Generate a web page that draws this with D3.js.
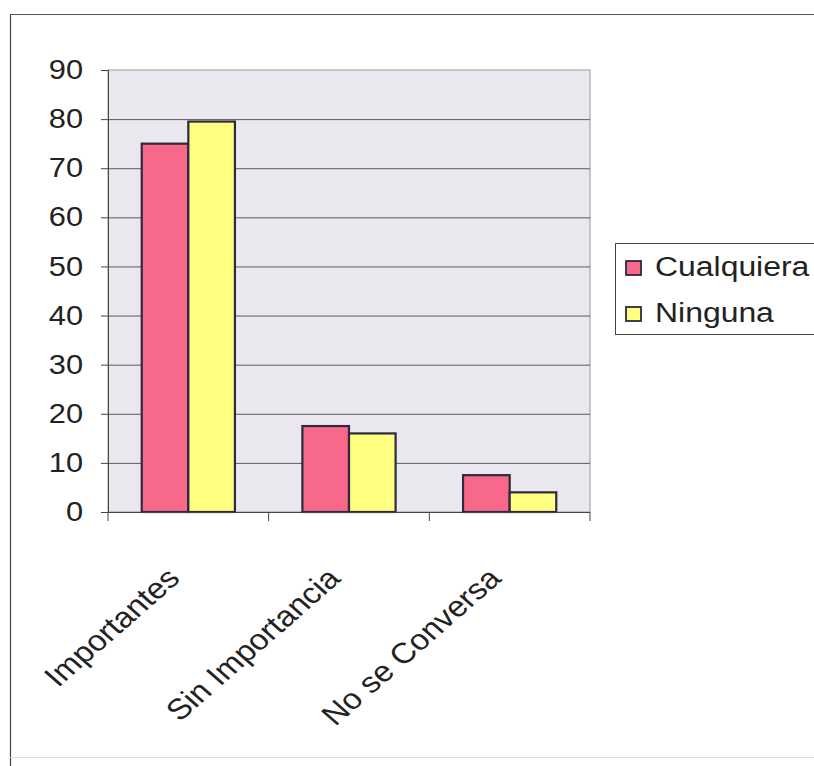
<!DOCTYPE html>
<html>
<head>
<meta charset="utf-8">
<script src="https://cdn.jsdelivr.net/npm/d3@7"></script>
<style>
  html, body { margin: 0; padding: 0; background: #fff; }
  svg { display: block; font-family: "Liberation Sans", Arial, sans-serif; }
</style>
</head>
<body>
<svg id="chart" width="814" height="766"></svg>
<script>
const categories = ["Importantes", "Sin Importancia", "No se Conversa"];
const seriesNames = ["Cualquiera", "Ninguna"];
const cualquiera = [75, 17.5, 7.5];
const ninguna = [79.5, 16, 4];
const yTicks = [0, 10, 20, 30, 40, 50, 60, 70, 80, 90];
const colors = ["#f8688a", "#ffff80"];

// the lettering is set slightly wide
const stretch = 1.14;

const svg = d3.select("#chart");

// outer chart frame
svg.append("line").attr("x1", 10.5).attr("x2", 10.5).attr("y1", 14).attr("y2", 766)
  .attr("stroke", "#444").attr("stroke-width", 1.2);
svg.append("line").attr("x1", 10).attr("x2", 814).attr("y1", 14.5).attr("y2", 14.5)
  .attr("stroke", "#555").attr("stroke-width", 1.2);
svg.append("line").attr("x1", 10).attr("x2", 814).attr("y1", 757.5).attr("y2", 757.5)
  .attr("stroke", "#ddd").attr("stroke-width", 1);

const plot = { left: 108, right: 590, top: 70, bottom: 512 };

const x0 = d3.scaleBand().domain(categories)
  .range([plot.left, plot.right]).paddingInner(0.42).paddingOuter(0.21);
const x1 = d3.scaleBand().domain(seriesNames).range([0, x0.bandwidth()]);
const y = d3.scaleLinear().domain([0, 90]).range([plot.bottom, plot.top]);

// plot background
svg.append("rect")
  .attr("x", plot.left).attr("y", plot.top)
  .attr("width", plot.right - plot.left).attr("height", plot.bottom - plot.top)
  .attr("fill", "#eae8ee").attr("stroke", "#999").attr("stroke-width", 1);

// gridlines
svg.append("g").selectAll("line").data(yTicks.filter(t => t > 0 && t < 90)).join("line")
  .attr("x1", plot.left).attr("x2", plot.right)
  .attr("y1", d => y(d) + 0.5).attr("y2", d => y(d) + 0.5)
  .attr("stroke", "#5a5a5a").attr("stroke-width", 1);

// bars
const rows = categories.map((c, i) => ({ cat: c, vals: [cualquiera[i], ninguna[i]] }));
const groups = svg.append("g").selectAll("g").data(rows).join("g")
  .attr("transform", d => `translate(${x0(d.cat)},0)`);
groups.selectAll("rect").data(d => d.vals.map((v, j) => ({ name: seriesNames[j], v, j }))).join("rect")
  .attr("x", d => x1(d.name))
  .attr("y", d => y(d.v))
  .attr("width", x1.bandwidth())
  .attr("height", d => y(0) - y(d.v))
  .attr("fill", d => colors[d.j])
  .attr("stroke", "#2e2840").attr("stroke-width", 2.2);

// y axis
const yAxis = d3.axisLeft(y).tickValues(yTicks).tickSize(7).tickPadding(18);
const gy = svg.append("g").attr("transform", `translate(${plot.left},0)`).call(yAxis);
gy.select(".domain").attr("stroke", "#444");
gy.selectAll(".tick line").attr("stroke", "#444");
gy.selectAll("text")
  .attr("font-size", 27).attr("fill", "#222")
  .attr("transform", function () {
    const xx = +d3.select(this).attr("x");
    return `translate(${xx},0) scale(${stretch},1) translate(${-xx},0)`;
  });

// x axis with ticks at category boundaries
const gx = svg.append("g").attr("transform", `translate(0,${plot.bottom})`);
gx.append("line").attr("x1", plot.left).attr("x2", plot.right)
  .attr("y1", 0.5).attr("y2", 0.5).attr("stroke", "#444");
const step = (plot.right - plot.left) / categories.length;
gx.selectAll("line.tk").data(d3.range(categories.length + 1)).join("line")
  .attr("class", "tk")
  .attr("x1", d => plot.left + d * step).attr("x2", d => plot.left + d * step)
  .attr("y1", 0).attr("y2", 9).attr("stroke", "#444");
gx.selectAll("text").data(categories).join("text")
  .attr("transform", d => `translate(${x0(d) + x0.bandwidth() / 2 - 7},${68}) scale(${stretch},1) rotate(-45)`)
  .attr("text-anchor", "end")
  .attr("font-size", 29).attr("fill", "#222")
  .text(d => d);

// legend
const lg = svg.append("g").attr("transform", "translate(615,243)");
lg.append("rect").attr("x", 0.5).attr("y", 0.5).attr("width", 220).attr("height", 91)
  .attr("fill", "#fff").attr("stroke", "#444").attr("stroke-width", 1);
seriesNames.forEach((n, i) => {
  lg.append("rect").attr("x", 11).attr("y", 18 + i * 46)
    .attr("width", 15).attr("height", 14)
    .attr("fill", colors[i]).attr("stroke", "#2e2840").attr("stroke-width", 1.8);
  lg.append("text").attr("transform", `translate(${40},${33 + i * 46}) scale(${stretch},1)`)
    .attr("font-size", 28).attr("fill", "#222").text(n);
});
</script>
</body>
</html>
